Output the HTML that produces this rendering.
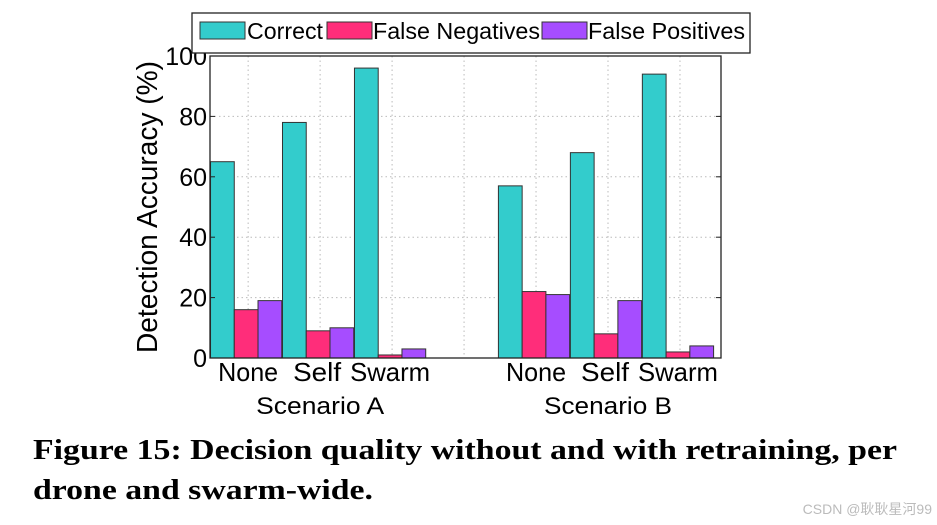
<!DOCTYPE html>
<html><head><meta charset="utf-8"><style>
html,body{margin:0;padding:0;background:#fff;}
svg{display:block;}
</style></head><body>
<svg id="chart" width="937" height="525" viewBox="0 0 937 525" xmlns="http://www.w3.org/2000/svg">
<g id="grid"></g>
<g id="bars"></g>
<rect x="210" y="56" width="511" height="302" fill="none" stroke="#222" stroke-width="1.3"/>
<g id="yticks" font-family="Liberation Sans, sans-serif" font-size="25" fill="#000"></g>
<g id="xlabels" font-family="Liberation Sans, sans-serif" font-size="26" fill="#000"></g>
<text x="157" y="207" transform="rotate(-90 157 207)" text-anchor="middle" font-family="Liberation Sans, sans-serif" font-size="29" textLength="292" lengthAdjust="spacingAndGlyphs" fill="#000">Detection Accuracy (%)</text>
<g font-family="Liberation Sans, sans-serif" font-size="23" fill="#000">
<rect x="192" y="13" width="558" height="40" fill="#fff" stroke="#222" stroke-width="1.3"/>
<rect x="200" y="22" width="45" height="17" fill="#33CCCC" stroke="#333"/>
<text x="247" y="39" textLength="76" lengthAdjust="spacingAndGlyphs">Correct</text>
<rect x="327" y="22" width="45" height="17" fill="#FF2D7A" stroke="#333"/>
<text x="373" y="39" textLength="167" lengthAdjust="spacingAndGlyphs">False Negatives</text>
<rect x="542" y="22" width="45" height="17" fill="#A64DFF" stroke="#333"/>
<text x="588" y="39" textLength="157" lengthAdjust="spacingAndGlyphs">False Positives</text>
</g>
<g font-family="Liberation Serif, serif" font-weight="bold" font-size="28" fill="#000">
<text x="33" y="459" textLength="864" lengthAdjust="spacingAndGlyphs">Figure 15:  Decision quality without and with retraining, per</text>
<text x="33" y="499" textLength="340" lengthAdjust="spacingAndGlyphs">drone and swarm-wide.</text>
</g>
<text x="932" y="514" text-anchor="end" font-family="Liberation Sans, 'Noto Sans CJK SC', sans-serif" font-size="14" fill="#bbb">CSDN @耿耿星河99</text>
</svg>
<script>
const categories = ["None","Self","Swarm","None","Self","Swarm"];
const positions = [1,2,3,5,6,7];
const correct = [65,78,96,57,68,94];
const falseNegatives = [16,9,1,22,8,2];
const falsePositives = [19,10,3,21,19,4];
const yTicks = [0,20,40,60,80,100];
const scenarios = ["Scenario A","Scenario B"];

const NS="http://www.w3.org/2000/svg";
const X0=210,X1=721,Y0=358,Y1=56,DMIN=0.47,DMAX=7.57;
function xs(v){return X0+(v-DMIN)/(DMAX-DMIN)*(X1-X0);}
function ys(v){return Y0-(v/100)*(Y0-Y1);}
function mk(tag,attrs,parent){const e=document.createElementNS(NS,tag);for(const k in attrs)e.setAttribute(k,attrs[k]);parent.appendChild(e);return e;}
const grid=document.getElementById('grid'),bars=document.getElementById('bars'),yt=document.getElementById('yticks'),xl=document.getElementById('xlabels');
yTicks.forEach(t=>{
  const y=ys(t);
  if(t>0&&t<100){const l=mk('line',{x1:X0,x2:X1,y1:y,y2:y,stroke:'#bbb','stroke-dasharray':'1.5 3'},grid);
  
  }
  mk('line',{x1:X0,x2:X0+5,y1:y,y2:y,stroke:'#222'},yt);
  mk('line',{x1:X1,x2:X1-5,y1:y,y2:y,stroke:'#222'},yt);
  const tx=mk('text',{x:X0-3,y:y+9,'text-anchor':'end'},yt);
  tx.textContent=t;
  
  
});
for(let p=1;p<=7;p++){
  const x=xs(p);
  const l=mk('line',{x1:x,x2:x,y1:Y1,y2:Y0,stroke:'#bbb','stroke-dasharray':'1.5 3'},grid);
  
  
}
const series=[[correct,'#33CCCC','correct'],[falseNegatives,'#FF2D7A','false-negatives'],[falsePositives,'#A64DFF','false-positives']];
const bw=(xs(1)-xs(0))*0.33;
const labelW={None:60,Self:48,Swarm:80};
categories.forEach((c,i)=>{
  const cx=xs(positions[i]);
  series.forEach((s,j)=>{
    const v=s[0][i];
    const x=cx-1.5*bw+j*bw-2;
    const r=mk('rect',{x:x,y:ys(v),width:bw,height:ys(0)-ys(v),fill:s[1],stroke:'#333','stroke-width':1},bars);
    
    
  });
  const off=c==='Self'?-3:(c==='Swarm'?-2:0);
  const t=mk('text',{x:cx+off,y:381,'text-anchor':'middle',textLength:labelW[c],lengthAdjust:'spacingAndGlyphs'},xl);
  t.textContent=c;
  
  
});
scenarios.forEach((s,i)=>{
  const t=mk('text',{x:xs(positions[i*3+1]),y:414,'text-anchor':'middle','font-size':24,textLength:128,lengthAdjust:'spacingAndGlyphs'},xl);
  t.textContent=s;
  
  
});
</script>
</body></html>
